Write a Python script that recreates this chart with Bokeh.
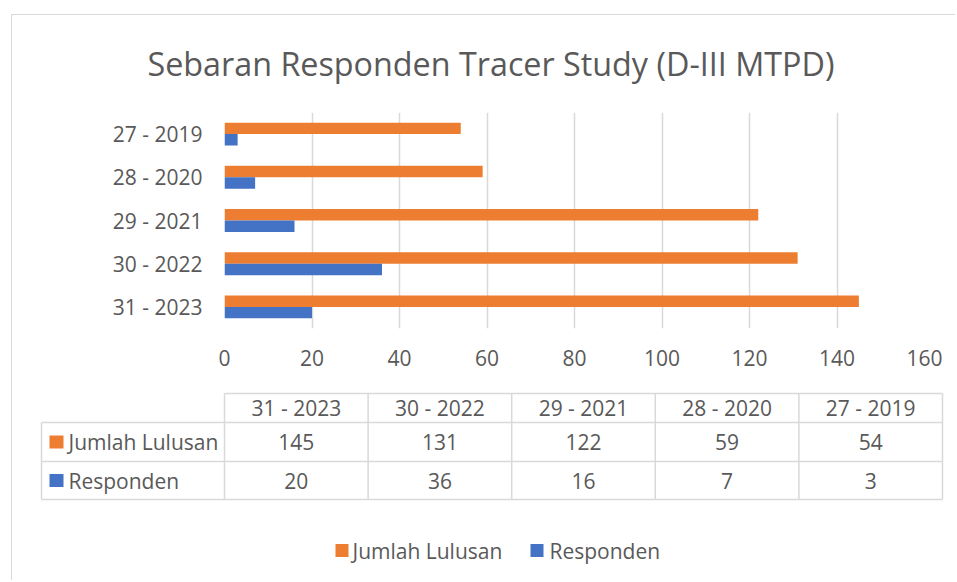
from bokeh.plotting import figure
from bokeh.models import ColumnDataSource, FactorRange, Range1d, FixedTicker
from bokeh.transform import dodge
from bokeh.core.properties import value
from bokeh.embed import file_html
from bokeh.resources import INLINE

# ---------------- data ----------------
categories = ["31 - 2023", "30 - 2022", "29 - 2021", "28 - 2020", "27 - 2019"]
jumlah_lulusan = [145, 131, 122, 59, 54]
responden = [20, 36, 16, 7, 3]
series_names = ["Jumlah Lulusan", "Responden"]
series_colors = ["#ED7D31", "#4472C4"]
x_ticks = [0, 20, 40, 60, 80, 100, 120, 140, 160]
title_text = "Sebaran Responden Tracer Study (D-III MTPD)"

FONT = "Open Sans"
TXT = "#595959"
GRID = "#D9D9D9"
W = 944

# ---------------- title strip ----------------
HT = 80
pt = figure(width=W, height=HT, x_range=Range1d(0, W), y_range=Range1d(HT, 0),
            output_backend="svg", toolbar_location=None,
            x_axis_location=None, y_axis_location=None, min_border=0,
            margin=(14, 0, 0, 11),
            styles={"border-left": "1px solid #D9D9D9", "border-top": "1px solid #D9D9D9"})
pt.outline_line_color = None
pt.grid.visible = False
pt.text(x=[135], y=[47], text=[title_text], text_font=value(FONT),
        text_font_size=value("32.3px"), text_color=TXT, text_align="left",
        text_baseline="middle")

# ---------------- bar chart ----------------
HA = 285
pa = figure(width=W, height=HA, y_range=FactorRange(*categories), x_range=Range1d(0, 160),
            output_backend="svg", toolbar_location=None,
            margin=(0, 0, 0, 11), styles={"border-left": "1px solid #D9D9D9"})
pa.min_border_left = 212
pa.min_border_right = W - 212 - 700
pa.min_border_top = 18
pa.min_border_bottom = HA - 18 - 216
pa.outline_line_color = None

for ax in (pa.xaxis, pa.yaxis):
    ax.axis_line_color = None
    ax.major_tick_line_color = None
    ax.minor_tick_line_color = None
    ax.major_tick_in = 0
    ax.major_tick_out = 0
    ax.major_label_text_font = FONT
    ax.major_label_text_font_size = "21px"
    ax.major_label_text_color = TXT
pa.xaxis.ticker = FixedTicker(ticks=x_ticks)
pa.xaxis.major_label_standoff = 21
pa.yaxis.major_label_standoff = 22

pa.xgrid.ticker = FixedTicker(ticks=x_ticks)
pa.xgrid.grid_line_color = GRID
pa.xgrid.grid_line_width = 1.5
pa.ygrid.grid_line_color = None

src = ColumnDataSource(dict(cat=categories, lulusan=jumlah_lulusan, responden=responden))
pa.hbar(y=dodge("cat", 0.1325, range=pa.y_range), left=0, right="lulusan", height=0.265,
        fill_color=series_colors[0], line_color=None, source=src)
pa.hbar(y=dodge("cat", -0.1325, range=pa.y_range), left=0, right="responden", height=0.265,
        fill_color=series_colors[1], line_color=None, source=src)

# ---------------- data table ----------------
HB = 135
pb = figure(width=W, height=HB, x_range=Range1d(0, W), y_range=Range1d(HB, 0),
            output_backend="svg", toolbar_location=None,
            x_axis_location=None, y_axis_location=None, min_border=0,
            margin=(0, 0, 0, 11), styles={"border-left": "1px solid #D9D9D9"})
pb.outline_line_color = None
pb.grid.visible = False

tbl_left = 29
col0 = 212
col_w = 143.6
row_y = [14, 43, 82, 120]
right = col0 + 5 * col_w

x0s, x1s, y0s, y1s = [], [], [], []
x0s.append(col0); x1s.append(right); y0s.append(row_y[0]); y1s.append(row_y[0])
for yy in row_y[1:]:
    x0s.append(tbl_left); x1s.append(right); y0s.append(yy); y1s.append(yy)
x0s.append(tbl_left); x1s.append(tbl_left); y0s.append(row_y[1]); y1s.append(row_y[3])
for i in range(6):
    xx = col0 + i * col_w
    x0s.append(xx); x1s.append(xx); y0s.append(row_y[0]); y1s.append(row_y[3])
pb.segment(x0=x0s, y0=y0s, x1=x1s, y1=y1s, line_color=GRID, line_width=1.5)

col_centers = [col0 + (i + 0.5) * col_w for i in range(len(categories))]
row_centers = [(row_y[k] + row_y[k + 1]) / 2 for k in range(3)]

txt_kw = dict(text_font=value(FONT), text_font_size=value("21px"), text_color=TXT,
              text_baseline="middle")
pb.text(x=col_centers, y=[row_centers[0]] * len(categories), text=categories,
        text_align="center", **txt_kw)
pb.text(x=col_centers, y=[row_centers[1]] * len(categories), text=[str(v) for v in jumlah_lulusan],
        text_align="center", **txt_kw)
pb.text(x=col_centers, y=[row_centers[2]] * len(categories), text=[str(v) for v in responden],
        text_align="center", **txt_kw)
pb.rect(x=[44, 44], y=row_centers[1:], width=14, height=13, fill_color=series_colors, line_color=None)
pb.text(x=[56, 56], y=row_centers[1:], text=series_names, text_align="left", **txt_kw)

# ---------------- legend ----------------
HC = 66
pc = figure(width=W, height=HC, x_range=Range1d(0, W), y_range=Range1d(HC, 0),
            output_backend="svg", toolbar_location=None,
            x_axis_location=None, y_axis_location=None, min_border=0,
            margin=(0, 0, 0, 11), styles={"border-left": "1px solid #D9D9D9"})
pc.outline_line_color = None
pc.grid.visible = False
pc.rect(x=[329.5, 524.5], y=[36, 36], width=13, height=13, fill_color=series_colors, line_color=None)
pc.text(x=[340, 537], y=[36, 36], text=series_names, text_align="left", **txt_kw)

open("out.html", "w").write(file_html([pt, pa, pb, pc], INLINE))
